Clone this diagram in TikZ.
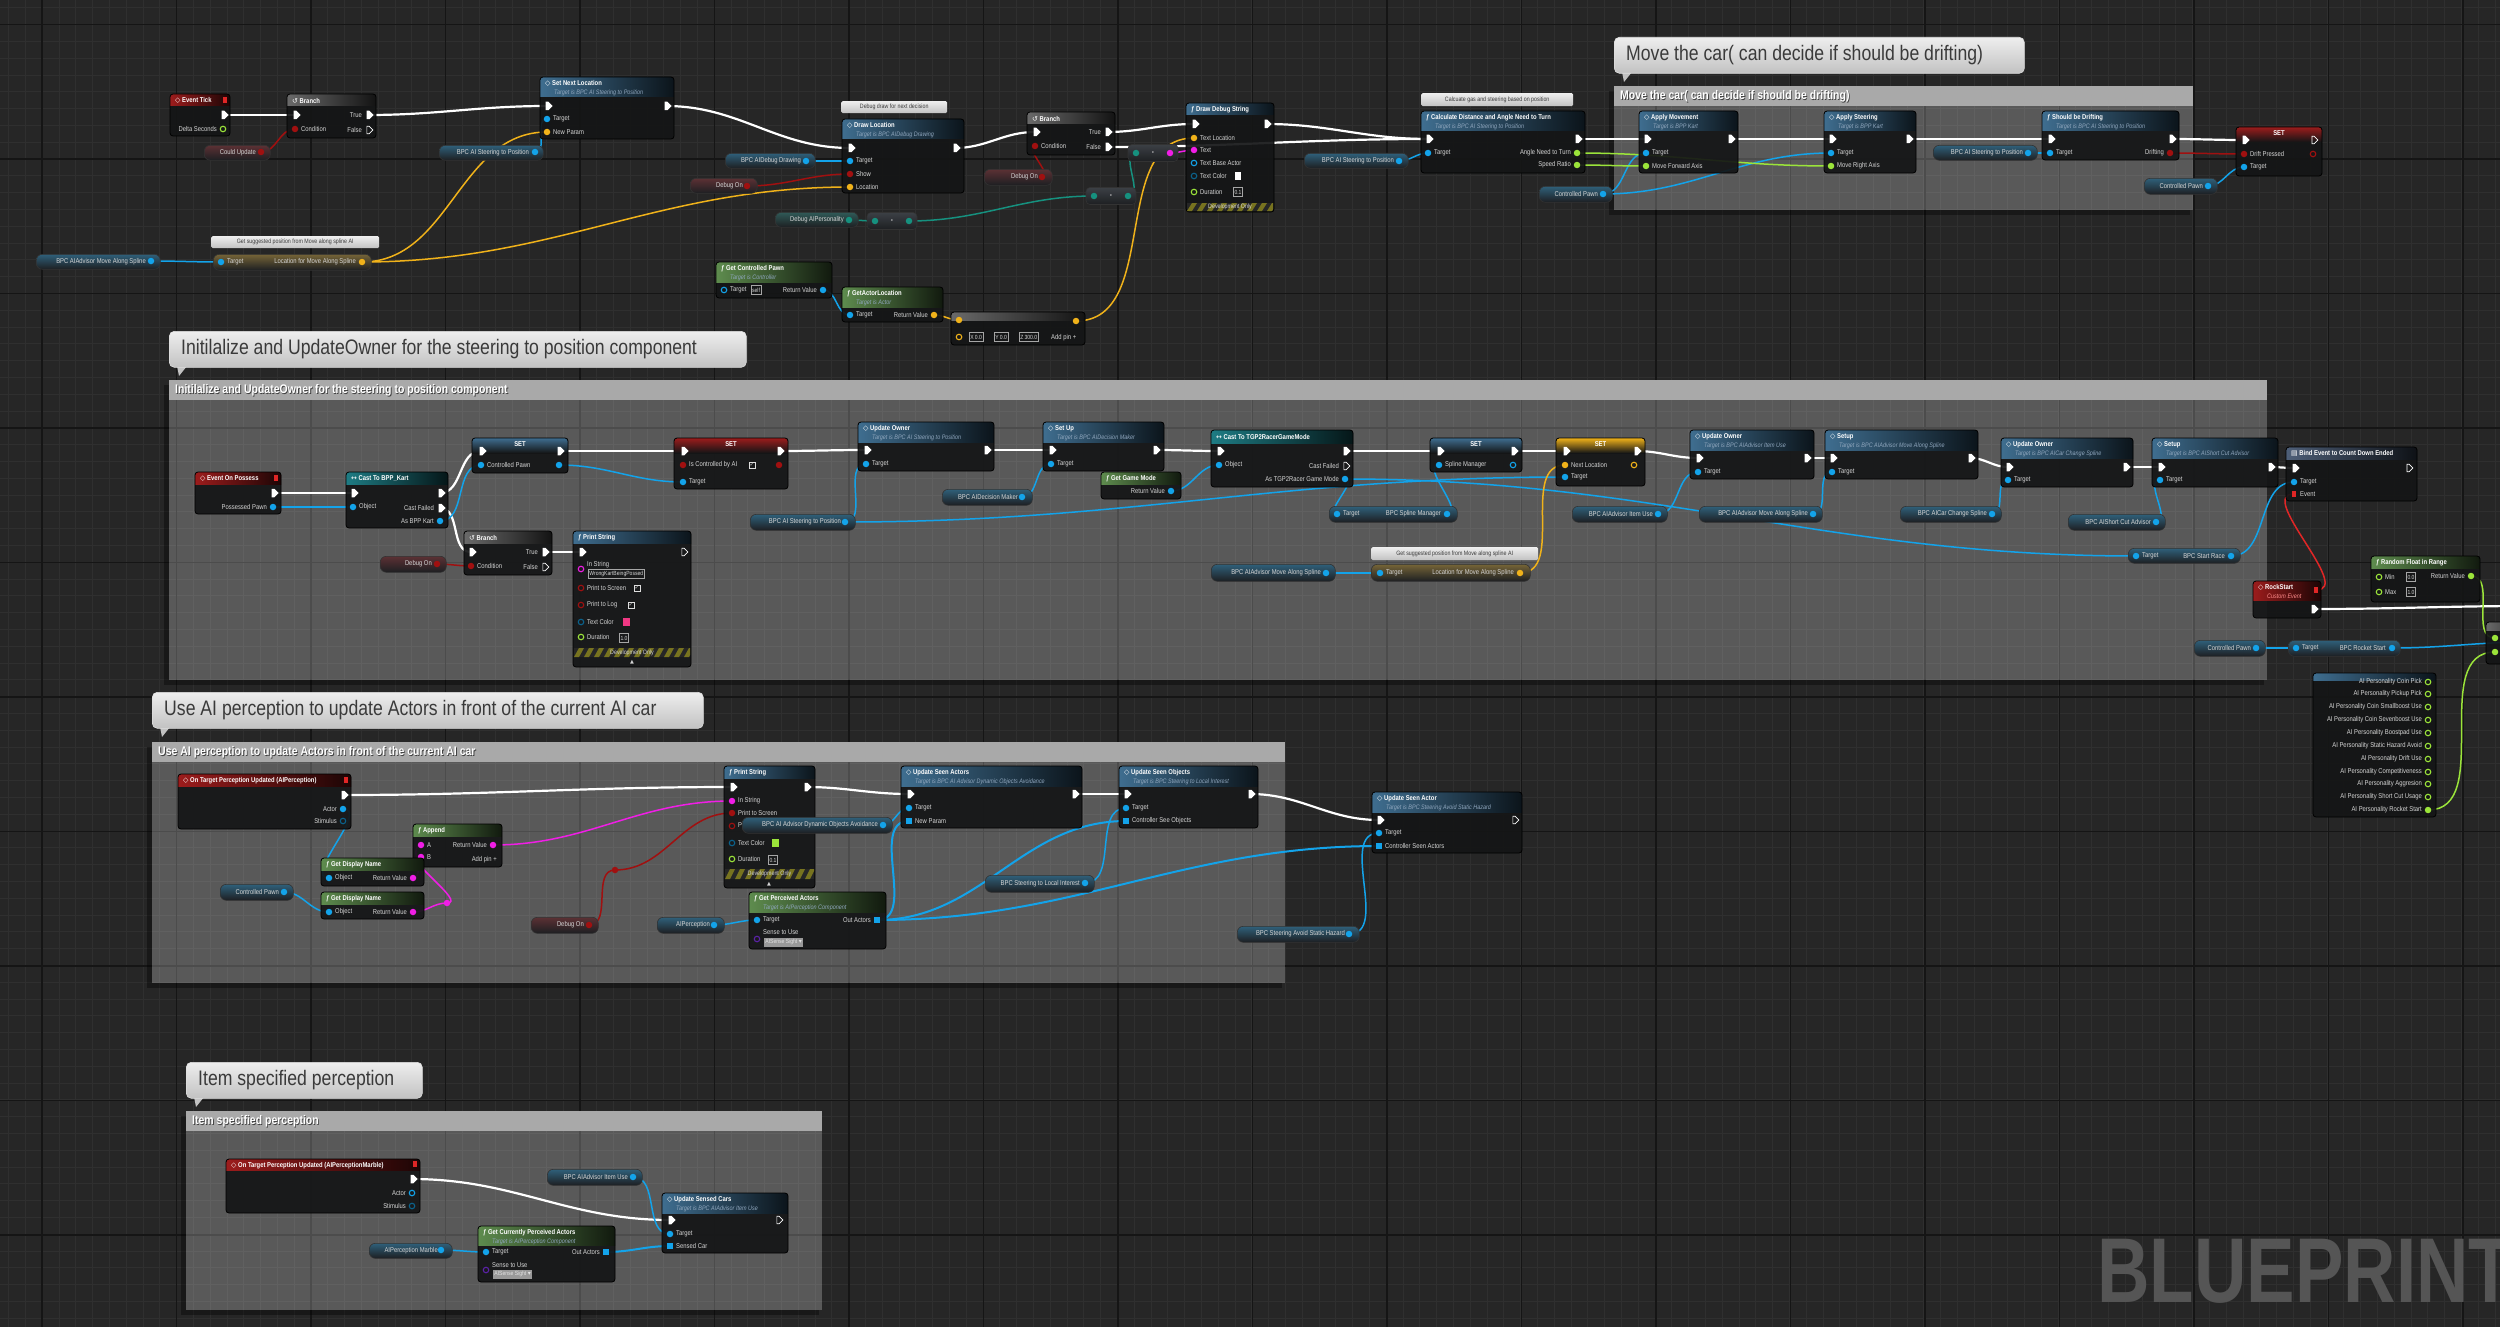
\documentclass[tikz,border=0pt]{standalone}
\usepackage{fontspec}
\setmainfont{Liberation Sans}[FakeStretch=0.84]
\newfontfamily\symfont{DejaVu Sans}
\newfontfamily\bpfont{Liberation Sans}[FakeStretch=0.79]
\usetikzlibrary{shapes.symbols}
\pgfdeclarelayer{gridl}\pgfdeclarelayer{regl}\pgfdeclarelayer{wirel}
\pgfsetlayers{gridl,regl,wirel,main}
\definecolor{bgc}{HTML}{262626}
\definecolor{gminor}{HTML}{2F2F2F}
\definecolor{gmajor}{HTML}{151515}
\definecolor{nbg}{HTML}{141516}
\definecolor{txt}{HTML}{D6D6D6}
\definecolor{subc}{HTML}{8FA6BD}
\definecolor{cobj}{HTML}{13A3EA}
\definecolor{cvec}{HTML}{F0B21A}
\definecolor{cbool}{HTML}{A01010}
\definecolor{cflt}{HTML}{9BE43A}
\definecolor{cstr}{HTML}{F01EE6}
\definecolor{cteal}{HTML}{16917F}
\definecolor{cdel}{HTML}{E02626}
\definecolor{cpur}{HTML}{5B22A8}
\definecolor{hred}{HTML}{9C1C1C}
\definecolor{hblue}{HTML}{3F6E90}
\definecolor{hgreen}{HTML}{5E8C4E}
\definecolor{hgrey}{HTML}{6A6A6A}
\definecolor{hteal}{HTML}{1E7C84}
\definecolor{hbind}{HTML}{4E5F78}
\definecolor{vgrey}{HTML}{3C4045}
\definecolor{vdark}{HTML}{1D1F22}
\definecolor{reghd}{HTML}{A9A9A9}
\definecolor{bubA}{HTML}{EEEEEE}
\definecolor{bubB}{HTML}{C2C2C2}
\definecolor{bubt}{HTML}{3A3A3A}
\definecolor{bpc}{HTML}{555555}
\definecolor{stry}{HTML}{77731F}
\tikzset{
  nbody/.style={rectangle, rounded corners=3pt, fill=nbg, fill opacity=0.92, inner sep=0pt, outer sep=0pt},
  ttl/.style={font=\fontsize{7}{8}\selectfont\bfseries, text=white, inner sep=0pt},
  sub/.style={font=\fontsize{6.5}{7}\selectfont\itshape, text=subc, inner sep=0pt},
  lab/.style={font=\fontsize{7}{8}\selectfont, text=txt, inner sep=0pt},
  xpin/.style={signal, signal to=east, fill=white, minimum width=7pt, minimum height=8.5pt, inner sep=0pt},
  hxpin/.style={signal, signal to=east, draw=white, line width=0.7pt, minimum width=6pt, minimum height=7.5pt, inner sep=0pt},
  dpin/.style={circle, fill=#1, minimum size=6.5pt, inner sep=0pt},
  hpin/.style={circle, draw=#1, line width=1.1pt, minimum size=5.5pt, inner sep=0pt},
  apin/.style={rectangle, fill=#1, minimum size=6pt, inner sep=0pt},
  sqpin/.style={rectangle, fill=#1, minimum width=4.5pt, minimum height=6pt, inner sep=0pt},
  wx/.style={draw=white, line width=2.2pt},
  wo/.style={draw=cobj, line width=1.5pt},
  wa/.style={draw=cobj, line width=2pt},
  wv/.style={draw=cvec, line width=1.5pt},
  wb/.style={draw=cbool, line width=1.5pt},
  wf/.style={draw=cflt, line width=1.5pt},
  ws/.style={draw=cstr, line width=1.5pt},
  wt/.style={draw=cteal, line width=1.5pt},
  wd/.style={draw=cdel, line width=1.5pt},
  vbox/.style={draw=gray!70, line width=0.5pt, font=\fontsize{6}{7}\selectfont, text=txt, inner sep=1.2pt, minimum height=9pt},
  scom/.style={rectangle, rounded corners=1.5pt, top color=bubA, bottom color=bubB, font=\fontsize{6.3}{7}\selectfont, text=bubt, inner sep=2pt},
}
\newcommand\ico[1]{{\symfont\mdseries\upshape #1}}
\newcommand\ubox[9]{%
  \node[nbody, anchor=north west, minimum width={(#4-#2)*1pt}, minimum height={(#5-#3)*1pt}] (#1) at (#2,#3) {};
  \begin{scope}
    \clip[rounded corners=3pt] (#2,#3) rectangle (#4,#5);
    \shade[left color=#7, right color=#7!18!black] (#2,#3) rectangle (#4,{#3+#6});
  \end{scope}
  \draw[rounded corners=3pt, black, line width=0.8pt] (#2,#3) rectangle (#4,#5);
  \node[ttl, anchor=west] (#1-t) at ({#2+5},{#3+6.5}) {#8};
  \node[sub, anchor=west] (#1-s) at ({#2+14},{#3+15.5}) {#9};
}
\newcommand\uset[6]{%
  \node[nbody, anchor=north west, minimum width={(#4-#2)*1pt}, minimum height={(#5-#3)*1pt}] (#1) at (#2,#3) {};
  \begin{scope}
    \clip[rounded corners=3pt] (#2,#3) rectangle (#4,#5);
    \shade[top color=#6, bottom color=nbg] (#2,#3) rectangle (#4,{#3+15});
  \end{scope}
  \draw[rounded corners=3pt, black, line width=0.8pt] (#2,#3) rectangle (#4,#5);
  \node[ttl] (#1-t) at ({(#2+#4)/2},{#3+6.5}) {SET};
}
\newcommand\uvar[7]{%
  \node[rectangle, rounded corners=6pt, top color=#6!32!vgrey, bottom color=vdark, draw=black!80, line width=0.6pt, anchor=north west, minimum width={(#4-#2)*1pt}, minimum height={(#5-#3)*1pt}, inner sep=0pt] (#1) at (#2,#3) {};
  \node[lab, anchor=east] (#1-l) at ({#4-14},{(#3+#5)/2}) {#7};
}
\newcommand\ucom[6]{%
  \node[scom, anchor=north west, minimum width={(#4-#2)*1pt}, minimum height={(#5-#3)*1pt}] (#1) at (#2,#3) {#6};
}
\newcommand\ubub[6]{%
  \fill[bubB] ({#2+8},{#5-1}) -- ({#2+18},{#5-1}) -- ({#2+10},{#5+9}) -- cycle;
  \node[rectangle, rounded corners=5pt, top color=bubA, bottom color=bubB, draw=white!75!gray, line width=0.6pt, anchor=north west, minimum width={(#4-#2)*1pt}, minimum height={(#5-#3)*1pt}, inner sep=0pt] (#1) at (#2,#3) {};
  \node[font=\fontsize{21}{22}\selectfont, text=bubt, anchor=west, inner sep=0pt] (#1-t) at ({#2+12},{(#3+#5)/2}) {#6};
}
\newcommand\ureg[6]{%
  \begin{pgfonlayer}{regl}
    \fill[black, opacity=0.35] ({#2-5},{#3+5}) rectangle (#2,{#5+5});
    \fill[black, opacity=0.35] (#2,#5) rectangle ({#4-3},{#5+5});
    \node[rectangle, fill=white, fill opacity=0.24, anchor=north west, minimum width={(#4-#2)*1pt}, minimum height={(#5-#3)*1pt}, inner sep=0pt] (#1) at (#2,#3) {};
    \fill[reghd] (#2,#3) rectangle (#4,{#3+20});
    \node[font=\fontsize{12.5}{13}\selectfont\bfseries, text=black!75, anchor=west, inner sep=0pt] (#1-sh) at ({#2+6.8},{#3+11.2}) {#6};
    \node[font=\fontsize{12.5}{13}\selectfont\bfseries, text=white, anchor=west, inner sep=0pt] (#1-t) at ({#2+6},{#3+10.4}) {#6};
  \end{pgfonlayer}}
\newcommand\udev[5]{%
  \begin{scope}
    \clip (#2,#3) rectangle (#4,#5);
    \fill[black!85] (#2,#3) rectangle (#4,#5);
    \foreach \k in {0,...,14} \fill[stry] ({#2+\k*10},#5) -- ({#2+\k*10+5},#5) -- ({#2+\k*10+10},#3) -- ({#2+\k*10+5},#3) -- cycle;
  \end{scope}
  \node[lab, font=\fontsize{6.3}{7}\selectfont] (#1) at ({(#2+#4)/2},{(#3+#5)/2}) {Development Only};
}
\newcommand\pinI[5]{\node[#2] (#1) at (#3,#4) {}; \node[lab, anchor=west] (#1-l) at ({#3+6},#4) {#5};}
\newcommand\pinO[5]{\node[#2] (#1) at (#3,#4) {}; \node[lab, anchor=east] (#1-l) at ({#3-6},#4) {#5};}
\newcommand\ucheck[3]{\node[draw=txt!80, line width=0.5pt, minimum size=6.5pt, inner sep=0pt, font=\symfont\fontsize{5.5}{5.5}\selectfont, text=txt] (#1) at (#2,#3) {✓};}
\newcommand\uconv[5]{%
  \node[rectangle, rounded corners=4pt, top color=vgrey, bottom color=vdark, draw=black!80, line width=0.6pt, minimum width=50pt, minimum height=17pt, inner sep=0pt, font=\fontsize{6}{6}\selectfont, text=txt] (#1) at (#2,#3) {\textbullet};
  \node[dpin=#4] (#1-i) at ({#2-17},#3) {};
  \node[dpin=#5] (#1-o) at ({#2+17},#3) {};}
\newcommand\cw[3]{\draw[#1] (#2.center) to[out=0,in=180] (#3.center);}

\begin{document}
\begin{tikzpicture}[x=1pt,y=-1pt]
\useasboundingbox (0,0) rectangle (2500,1327);
\begin{pgfonlayer}{gridl}
  \fill[bgc] (0,0) rectangle (2500,1327);
  \foreach \i in {0,...,149} \draw[gminor, line width=0.6pt] ({8.4+\i*16.8},0) -- ({8.4+\i*16.8},1327);
  \foreach \i in {0,...,79} \draw[gminor, line width=0.6pt] (0,{7.7+\i*16.8}) -- (2500,{7.7+\i*16.8});
  \foreach \i in {0,...,18} \draw[gmajor, line width=1.2pt] ({42+\i*134.5},0) -- ({42+\i*134.5},1327);
  \foreach \i in {0,...,9} \draw[gmajor, line width=1.2pt] (0,{24.5+\i*134.5}) -- (2500,{24.5+\i*134.5});
  \node[anchor=west, text=bpc, font=\bpfont\bfseries\fontsize{92}{92}\selectfont, inner sep=0pt] (bp) at (2097,1271) {BLUEPRINT};
\end{pgfonlayer}

% ================= TOP SECTION =================
\ubox{tick}{170}{94}{230}{136}{12}{hred}{\ico{◇} Event Tick}{}
\node[sqpin=cdel] (tick-d) at (225,100) {};
\pinO{tick-x}{xpin}{223}{115}{}
\pinO{tick-ds}{hpin=cflt}{223}{129}{Delta Seconds}

\ubox{br1}{287}{94}{376}{138}{12}{hgrey}{\ico{↺} Branch}{}
\pinI{br1-in}{xpin}{295}{115}{}
\pinI{br1-c}{dpin=cbool}{295}{129}{Condition}
\pinO{br1-t}{xpin}{368}{115}{True}
\pinO{br1-f}{hxpin}{368}{130}{False}

\uvar{cu}{204}{145}{270}{160}{cbool}{Could Update}
\node[dpin=cbool] (cu-o) at (261,152) {};

\ubox{snl}{540}{77}{674}{139}{20}{hblue}{\ico{◇} Set Next Location}{Target is BPC AI Steering to Position}
\pinI{snl-in}{xpin}{547}{106}{}
\pinO{snl-out}{xpin}{666}{106}{}
\pinI{snl-tg}{dpin=cobj}{547}{119}{Target}
\pinI{snl-np}{dpin=cvec}{547}{132}{New Param}

\uvar{sp1}{439}{145}{543}{160}{cobj}{BPC AI Steering to Position}
\node[dpin=cobj] (sp1-o) at (535,152) {};

\ucom{cm1}{211}{236}{379}{248}{Get suggested position from Move along spline AI}
\uvar{ms1}{36}{254}{160}{269}{cobj}{BPC AIAdvisor Move Along Spline}
\node[dpin=cobj] (ms1-o) at (151,261) {};
\uvar{lm1}{213}{254}{371}{270}{cvec}{}
\pinI{lm1-tg}{dpin=cobj}{221}{262}{Target}
\pinO{lm1-o}{dpin=cvec}{362}{262}{Location for Move Along Spline}

\ucom{cm2}{841}{101}{947}{113}{Debug draw for next decision}
\ubox{dl}{842}{119}{964}{193}{20}{hblue}{\ico{◇} Draw Location}{Target is BPC AIDebug Drawing}
\pinI{dl-in}{xpin}{850}{148}{}
\pinO{dl-out}{xpin}{955}{148}{}
\pinI{dl-tg}{dpin=cobj}{850}{161}{Target}
\pinI{dl-sh}{dpin=cbool}{850}{174}{Show}
\pinI{dl-loc}{dpin=cvec}{850}{187}{Location}
\uvar{dd}{725}{153}{815}{168}{cobj}{BPC AIDebug Drawing}
\node[dpin=cobj] (dd-o) at (806,161) {};
\uvar{do1}{690}{178}{757}{193}{cbool}{Debug On}
\node[dpin=cbool] (do1-o) at (747,186) {};

\ubox{br2}{1027}{112}{1115}{155}{12}{hgrey}{\ico{↺} Branch}{}
\pinI{br2-in}{xpin}{1035}{132}{}
\pinI{br2-c}{dpin=cbool}{1035}{146}{Condition}
\pinO{br2-t}{xpin}{1107}{132}{True}
\pinO{br2-f}{xpin}{1107}{147}{False}
\uvar{do2}{984}{169}{1052}{185}{cbool}{Debug On}
\node[dpin=cbool] (do2-o) at (1042,177) {};

\ubox{dds}{1186}{103}{1274}{212}{12}{hblue}{ƒ Draw Debug String}{}
\pinI{dds-in}{xpin}{1194}{124}{}
\pinO{dds-out}{xpin}{1266}{124}{}
\pinI{dds-tl}{dpin=cvec}{1194}{138}{Text Location}
\pinI{dds-tx}{dpin=cstr}{1194}{150}{Text}
\pinI{dds-ba}{hpin=cobj}{1194}{163}{Text Base Actor}
\pinI{dds-tc}{hpin=cobj!60!black}{1194}{176}{Text Color}
\node[fill=white, minimum width=6pt, minimum height=8pt, inner sep=0pt] (dds-sw) at (1238,176) {};
\pinI{dds-du}{hpin=cflt}{1194}{192}{Duration}
\node[vbox] (dds-dv) at (1238,192) {0.1};
\udev{dds-dev}{1187}{203}{1273}{211}

\uvar{dap}{775}{212}{858}{227}{cteal}{Debug AIPersonality}
\node[dpin=cteal] (dap-o) at (849,220) {};
\uconv{cv1}{892}{221}{cteal}{cteal}
\uconv{cv2}{1111}{196}{cteal}{cteal}
\uconv{cv3}{1153}{153}{cteal}{cstr}

\ubox{gcp}{716}{262}{832}{298}{20}{hgreen}{ƒ Get Controlled Pawn}{Target is Controller}
\pinI{gcp-tg}{hpin=cobj}{724}{290}{Target}
\node[vbox] (gcp-self) at (756,290) {self};
\pinO{gcp-o}{dpin=cobj}{823}{290}{Return Value}
\ubox{gal}{842}{287}{943}{322}{20}{hgreen}{ƒ GetActorLocation}{Target is Actor}
\pinI{gal-tg}{dpin=cobj}{850}{315}{Target}
\pinO{gal-o}{dpin=cvec}{934}{315}{Return Value}
\ubox{add}{951}{312}{1085}{345}{8}{hgrey}{}{}
\node[dpin=cvec] (add-a) at (959,320) {};
\node[dpin=cvec] (add-o) at (1076,321) {};
\node[hpin=cvec] (add-b) at (959,337) {};
\node[vbox, anchor=west] (add-x) at (969,337) {X\,0.0};
\node[vbox, anchor=west] (add-y) at (994,337) {Y\,0.0};
\node[vbox, anchor=west] (add-z) at (1019,337) {Z\,300.0};
\node[lab, anchor=west] (add-p) at (1051,338) {Add pin +};

\ucom{cm3}{1421}{93}{1573}{106}{Calcuate gas and steering based on position}
\ubox{cd}{1421}{111}{1585}{173}{20}{hblue}{ƒ Calculate Distance and Angle Need to Turn}{Target is BPC AI Steering to Position}
\pinI{cd-in}{xpin}{1428}{139}{}
\pinO{cd-out}{xpin}{1577}{139}{}
\pinI{cd-tg}{dpin=cobj}{1428}{153}{Target}
\pinO{cd-an}{dpin=cflt}{1577}{153}{Angle Need to Turn}
\pinO{cd-sr}{dpin=cflt}{1577}{165}{Speed Ratio}
\uvar{sp2}{1304}{153}{1408}{168}{cobj}{BPC AI Steering to Position}
\node[dpin=cobj] (sp2-o) at (1399,161) {};

\ureg{rg1}{1614}{86}{2193}{210}{Move the car( can decide if should be drifting)}
\ubub{bb1}{1614}{37}{2024}{73}{Move the car( can decide if should be drifting)}
\uvar{cp1}{1539}{186}{1612}{202}{cobj}{Controlled Pawn}
\node[dpin=cobj] (cp1-o) at (1603,194) {};
\ubox{am}{1639}{111}{1738}{173}{20}{hblue}{\ico{◇} Apply Movement}{Target is BPP Kart}
\pinI{am-in}{xpin}{1646}{139}{}
\pinO{am-out}{xpin}{1730}{139}{}
\pinI{am-tg}{dpin=cobj}{1646}{153}{Target}
\pinI{am-mf}{dpin=cflt}{1646}{166}{Move Forward Axis}
\ubox{as}{1824}{111}{1916}{173}{20}{hblue}{\ico{◇} Apply Steering}{Target is BPP Kart}
\pinI{as-in}{xpin}{1831}{139}{}
\pinO{as-out}{xpin}{1908}{139}{}
\pinI{as-tg}{dpin=cobj}{1831}{153}{Target}
\pinI{as-mr}{dpin=cflt}{1831}{166}{Move Right Axis}
\uvar{sp3}{1933}{145}{2037}{160}{cobj}{BPC AI Steering to Position}
\node[dpin=cobj] (sp3-o) at (2028,153) {};
\ubox{sd}{2042}{111}{2179}{160}{20}{hblue}{ƒ Should be Drifting}{Target is BPC AI Steering to Position}
\pinI{sd-in}{xpin}{2050}{139}{}
\pinO{sd-out}{xpin}{2171}{139}{}
\pinI{sd-tg}{dpin=cobj}{2050}{153}{Target}
\pinO{sd-dr}{dpin=cbool}{2170}{153}{Drifting}
\uset{set1}{2236}{127}{2322}{176}{hred}
\pinI{set1-in}{xpin}{2244}{140}{}
\pinO{set1-out}{hxpin}{2313}{140}{}
\pinI{set1-dp}{dpin=cbool}{2244}{154}{Drift Pressed}
\node[hpin=cbool] (set1-dpo) at (2313,154) {};
\pinI{set1-tg}{dpin=cobj}{2244}{167}{Target}
\uvar{cp2}{2144}{178}{2217}{194}{cobj}{Controlled Pawn}
\node[dpin=cobj] (cp2-o) at (2208,186) {};

% ================= INIT SECTION =================
\ureg{rg2}{169}{380}{2267}{680}{Initilalize and UpdateOwner for the steering to position component}
\ubub{bb2}{169}{331}{746}{367}{Initilalize and UpdateOwner for the steering to position component}

\ubox{eop}{195}{472}{281}{514}{12}{hred}{\ico{◇} Event On Possess}{}
\node[sqpin=cdel] (eop-d) at (276,478) {};
\pinO{eop-x}{xpin}{273}{493}{}
\pinO{eop-pp}{dpin=cobj}{273}{507}{Possessed Pawn}
\ubox{c1}{346}{472}{448}{528}{12}{hteal}{\ico{↔} Cast To BPP\_Kart}{}
\pinI{c1-in}{xpin}{353}{493}{}
\pinO{c1-out}{xpin}{440}{493}{}
\pinI{c1-ob}{dpin=cobj}{353}{507}{Object}
\pinO{c1-cf}{xpin}{440}{508}{Cast Failed}
\pinO{c1-as}{dpin=cobj}{440}{521}{As BPP Kart}
\uset{s2}{472}{438}{568}{473}{hblue}
\pinI{s2-in}{xpin}{481}{451}{}
\pinO{s2-out}{xpin}{559}{451}{}
\pinI{s2-cp}{dpin=cobj}{481}{465}{Controlled Pawn}
\node[dpin=cobj] (s2-cpo) at (559,465) {};
\uset{s3}{674}{438}{788}{489}{hred}
\pinI{s3-in}{xpin}{683}{451}{}
\pinO{s3-out}{xpin}{779}{451}{}
\pinI{s3-ic}{dpin=cbool}{683}{465}{Is Controlled by AI}
\ucheck{s3-ck}{752}{465}
\node[dpin=cbool] (s3-ico) at (779,465) {};
\pinI{s3-tg}{dpin=cobj}{683}{482}{Target}
\ubox{b3}{464}{531}{552}{575}{12}{hgrey}{\ico{↺} Branch}{}
\pinI{b3-in}{xpin}{471}{552}{}
\pinI{b3-c}{dpin=cbool}{471}{566}{Condition}
\pinO{b3-t}{xpin}{544}{552}{True}
\pinO{b3-f}{hxpin}{544}{567}{False}
\uvar{do3}{380}{556}{446}{572}{cbool}{Debug On}
\node[dpin=cbool] (do3-o) at (437,564) {};
\ubox{ps1}{573}{531}{691}{667}{12}{hblue}{ƒ Print String}{}
\pinI{ps1-in}{xpin}{581}{552}{}
\node[hxpin] (ps1-out) at (683,552) {};
\node[hpin=cstr] (ps1-is) at (581,569) {};
\node[lab, anchor=west] (ps1-isl) at (587,564.5) {In String};
\node[vbox, anchor=west] (ps1-isv) at (588,574) {WrongKartBeingPossed};
\pinI{ps1-ps}{hpin=cbool}{581}{588}{Print to Screen}
\ucheck{ps1-ck1}{637}{588}
\pinI{ps1-pl}{hpin=cbool}{581}{605}{Print to Log}
\ucheck{ps1-ck2}{631}{605}
\pinI{ps1-tc}{hpin=cobj!60!black}{581}{622}{Text Color}
\node[fill=magenta!70!red!80!white, minimum width=7pt, minimum height=8pt, inner sep=0pt] (ps1-sw) at (626,622) {};
\pinI{ps1-du}{hpin=cflt}{581}{637}{Duration}
\node[vbox] (ps1-dv) at (624,638) {1.0};
\udev{ps1-dev}{574}{648}{690}{657}
\node[font=\symfont\fontsize{5}{5}\selectfont, text=txt] (ps1-tri) at (632,662) {▲};

\uvar{sp4}{750}{514}{855}{530}{cobj}{BPC AI Steering to Position}
\node[dpin=cobj] (sp4-o) at (845,522) {};
\ubox{uo1}{858}{422}{994}{471}{20}{hblue}{\ico{◇} Update Owner}{Target is BPC AI Steering to Position}
\pinI{uo1-in}{xpin}{866}{450}{}
\pinO{uo1-out}{xpin}{986}{450}{}
\pinI{uo1-tg}{dpin=cobj}{866}{464}{Target}
\ubox{su}{1043}{422}{1164}{471}{20}{hblue}{\ico{◇} Set Up}{Target is BPC AIDecision Maker}
\pinI{su-in}{xpin}{1051}{450}{}
\pinO{su-out}{xpin}{1155}{450}{}
\pinI{su-tg}{dpin=cobj}{1051}{464}{Target}
\uvar{dm}{942}{489}{1032}{505}{cobj}{BPC AIDecision Maker}
\node[dpin=cobj] (dm-o) at (1022,497) {};
\ubox{ggm}{1101}{472}{1181}{499}{12}{hgreen}{ƒ Get Game Mode}{}
\pinO{ggm-o}{dpin=cobj}{1171}{491}{Return Value}
\ubox{c2}{1211}{430}{1353}{487}{13}{hteal}{\ico{↔} Cast To TGP2RacerGameMode}{}
\pinI{c2-in}{xpin}{1219}{451}{}
\pinO{c2-out}{xpin}{1345}{451}{}
\pinI{c2-ob}{dpin=cobj}{1219}{465}{Object}
\pinO{c2-cf}{hxpin}{1345}{466}{Cast Failed}
\pinO{c2-as}{dpin=cobj}{1345}{479}{As TGP2Racer Game Mode}
\uset{s4}{1430}{438}{1522}{472}{hblue}
\pinI{s4-in}{xpin}{1439}{451}{}
\pinO{s4-out}{xpin}{1513}{451}{}
\pinI{s4-sm}{dpin=cobj}{1439}{465}{Spline Manager}
\node[hpin=cobj] (s4-smo) at (1513,465) {};
\uvar{gsm}{1329}{506}{1457}{522}{cobj}{}
\pinI{gsm-tg}{dpin=cobj}{1337}{514}{Target}
\pinO{gsm-o}{dpin=cobj}{1447}{514}{BPC Spline Manager}
\ucom{cm4}{1371}{547}{1538}{560}{Get suggested position from Move along spline AI}
\uvar{ms2}{1211}{564}{1335}{581}{cobj}{BPC AIAdvisor Move Along Spline}
\node[dpin=cobj] (ms2-o) at (1326,573) {};
\uvar{lm2}{1371}{564}{1530}{581}{cvec}{}
\pinI{lm2-tg}{dpin=cobj}{1380}{573}{Target}
\pinO{lm2-o}{dpin=cvec}{1520}{573}{Location for Move Along Spline}
\uset{s5}{1556}{438}{1645}{486}{cvec}
\pinI{s5-in}{xpin}{1565}{451}{}
\pinO{s5-out}{xpin}{1636}{451}{}
\pinI{s5-nl}{dpin=cvec}{1565}{465}{Next Location}
\node[hpin=cvec] (s5-nlo) at (1634,465) {};
\pinI{s5-tg}{dpin=cobj}{1565}{477}{Target}
\ubox{uo2}{1690}{430}{1814}{479}{20}{hblue}{\ico{◇} Update Owner}{Target is BPC AIAdvisor Item Use}
\pinI{uo2-in}{xpin}{1698}{458}{}
\pinO{uo2-out}{xpin}{1806}{458}{}
\pinI{uo2-tg}{dpin=cobj}{1698}{472}{Target}
\uvar{iu1}{1572}{506}{1667}{522}{cobj}{BPC AIAdvisor Item Use}
\node[dpin=cobj] (iu1-o) at (1658,514) {};
\ubox{st1}{1825}{430}{1978}{479}{20}{hblue}{\ico{◇} Setup}{Target is BPC AIAdvisor Move Along Spline}
\pinI{st1-in}{xpin}{1832}{458}{}
\pinO{st1-out}{xpin}{1970}{458}{}
\pinI{st1-tg}{dpin=cobj}{1832}{472}{Target}
\uvar{ms3}{1699}{506}{1822}{522}{cobj}{BPC AIAdvisor Move Along Spline}
\node[dpin=cobj] (ms3-o) at (1813,514) {};
\ubox{uo3}{2001}{438}{2133}{487}{20}{hblue}{\ico{◇} Update Owner}{Target is BPC AICar Change Spline}
\pinI{uo3-in}{xpin}{2008}{467}{}
\pinO{uo3-out}{xpin}{2125}{467}{}
\pinI{uo3-tg}{dpin=cobj}{2008}{480}{Target}
\uvar{cc}{1900}{506}{2001}{522}{cobj}{BPC AICar Change Spline}
\node[dpin=cobj] (cc-o) at (1992,514) {};
\ubox{st2}{2152}{438}{2278}{487}{20}{hblue}{\ico{◇} Setup}{Target is BPC AIShort Cut Advisor}
\pinI{st2-in}{xpin}{2160}{467}{}
\pinO{st2-out}{xpin}{2270}{467}{}
\pinI{st2-tg}{dpin=cobj}{2160}{480}{Target}
\uvar{sc}{2068}{514}{2165}{530}{cobj}{BPC AIShort Cut Advisor}
\node[dpin=cobj] (sc-o) at (2156,522) {};
\ubox{be}{2286}{447}{2417}{501}{12}{hbind}{\ico{▤} Bind Event to Count Down Ended}{}
\pinI{be-in}{xpin}{2294}{468}{}
\node[hxpin] (be-out) at (2408,468) {};
\pinI{be-tg}{dpin=cobj}{2294}{482}{Target}
\pinI{be-ev}{sqpin=cdel}{2294}{494}{Event}
\uvar{sr}{2128}{548}{2240}{563}{cobj}{}
\pinI{sr-tg}{dpin=cobj}{2136}{556}{Target}
\pinO{sr-o}{dpin=cobj}{2231}{556}{BPC Start Race}
\ubox{rs}{2253}{581}{2321}{618}{19}{hred}{\ico{◇} RockStart}{\textcolor{red!45!white}{Custom Event}}
\node[sqpin=cdel] (rs-d) at (2316,590) {};
\node[xpin] (rs-x) at (2313,609) {};
\ubox{rf}{2371}{556}{2480}{602}{12}{hgreen}{ƒ Random Float in Range}{}
\pinI{rf-mn}{hpin=cflt}{2379}{577}{Min}
\node[vbox] (rf-mnv) at (2411,577) {0.0};
\pinI{rf-mx}{hpin=cflt}{2379}{592}{Max}
\node[vbox] (rf-mxv) at (2411,592) {1.0};
\pinO{rf-o}{dpin=cflt}{2471}{576}{Return Value}
\uvar{cp3}{2194}{640}{2265}{656}{cobj}{Controlled Pawn}
\node[dpin=cobj] (cp3-o) at (2256,648) {};
\uvar{rks}{2288}{640}{2400}{656}{cobj}{}
\pinI{rks-tg}{dpin=cobj}{2296}{648}{Target}
\pinO{rks-o}{dpin=cobj}{2392}{648}{BPC Rocket Start}
\ubox{rn}{2486}{622}{2540}{664}{8}{hgrey}{}{}
\node[dpin=cflt] (rn-a) at (2495,638) {};
\node[dpin=cflt] (rn-b) at (2495,652) {};
\coordinate (rn-x) at (2530,606);
\coordinate (rn-c) at (2530,642);
\ubox{pers}{2313}{673}{2436}{817}{7}{hblue}{}{}
\pinO{pers-1}{hpin=cflt}{2428}{682}{AI Personality Coin Pick}
\pinO{pers-2}{hpin=cflt}{2428}{694}{AI Personality Pickup Pick}
\pinO{pers-3}{hpin=cflt}{2428}{707}{AI Personality Coin Smallboost Use}
\pinO{pers-4}{hpin=cflt}{2428}{720}{AI Personality Coin Sevenboost Use}
\pinO{pers-5}{hpin=cflt}{2428}{733}{AI Personality Boostpad Use}
\pinO{pers-6}{hpin=cflt}{2428}{746}{AI Personality Static Hazard Avoid}
\pinO{pers-7}{hpin=cflt}{2428}{759}{AI Personality Drift Use}
\pinO{pers-8}{hpin=cflt}{2428}{772}{AI Personality Competitiveness}
\pinO{pers-9}{hpin=cflt}{2428}{784}{AI Personality Aggresion}
\pinO{pers-10}{hpin=cflt}{2428}{797}{AI Personality Short Cut Usage}
\pinO{pers-11}{dpin=cflt}{2428}{810}{AI Personality Rocket Start}

% ================= PERCEPTION SECTION =================
\ureg{rg3}{152}{742}{1285}{983}{Use AI perception to update Actors in front of the current AI car}
\ubub{bb3}{152}{692}{703}{728}{Use AI perception to update Actors in front of the current AI car}
\ubox{otp}{178}{774}{351}{829}{12}{hred}{\ico{◇} On Target Perception Updated (AIPerception)}{}
\node[sqpin=cdel] (otp-d) at (346,780) {};
\pinO{otp-x}{xpin}{343}{795}{}
\pinO{otp-ac}{dpin=cobj}{343}{809}{Actor}
\pinO{otp-st}{hpin=cobj!60!black}{343}{821}{Stimulus}
\ubox{ap}{413}{824}{502}{867}{12}{hgreen}{ƒ Append}{}
\pinI{ap-a}{dpin=cstr}{421}{845}{A}
\pinI{ap-b}{dpin=cstr}{421}{857}{B}
\pinO{ap-o}{dpin=cstr}{493}{845}{Return Value}
\node[lab, anchor=east] (ap-add) at (497,860) {Add pin +};
\ubox{g1}{321}{858}{424}{886}{12}{hgreen}{ƒ Get Display Name}{}
\pinI{g1-ob}{dpin=cobj}{329}{878}{Object}
\pinO{g1-o}{dpin=cstr}{413}{878}{Return Value}
\ubox{g2}{321}{892}{424}{919}{12}{hgreen}{ƒ Get Display Name}{}
\pinI{g2-ob}{dpin=cobj}{329}{912}{Object}
\pinO{g2-o}{dpin=cstr}{413}{912}{Return Value}
\node[dpin=cstr] (kns) at (447,903) {};
\uvar{cp4}{220}{884}{293}{900}{cobj}{Controlled Pawn}
\node[dpin=cobj] (cp4-o) at (284,892) {};
\uvar{do4}{531}{917}{598}{933}{cbool}{Debug On}
\node[dpin=cbool] (do4-o) at (589,925) {};
\node[dpin=cbool] (knr) at (615,870) {};
\uvar{aip}{657}{917}{724}{933}{cobj}{AIPerception}
\node[dpin=cobj] (aip-o) at (714,925) {};
\ubox{ps2}{724}{766}{815}{888}{12}{hblue}{ƒ Print String}{}
\pinI{ps2-in}{xpin}{732}{787}{}
\pinO{ps2-out}{xpin}{806}{787}{}
\pinI{ps2-is}{dpin=cstr}{732}{801}{In String}
\pinI{ps2-pts}{dpin=cbool}{732}{813}{Print to Screen}
\pinI{ps2-ptl}{hpin=cbool}{732}{826}{Print to Log}
\pinI{ps2-tc}{hpin=cobj!60!black}{732}{843}{Text Color}
\node[fill=cflt, minimum width=7pt, minimum height=8pt, inner sep=0pt] (ps2-sw) at (775,843) {};
\pinI{ps2-du}{hpin=cflt}{732}{859}{Duration}
\node[vbox] (ps2-dv) at (773,860) {0.1};
\udev{ps2-dev}{725}{869}{814}{879}
\node[font=\symfont\fontsize{5}{5}\selectfont, text=txt] (ps2-tri) at (769,884) {▲};
\uvar{doa}{742}{817}{892}{833}{cobj}{BPC AI Advisor Dynamic Objects Avoidance}
\node[dpin=cobj] (doa-o) at (883,825) {};
\ubox{gpa}{749}{892}{886}{949}{20}{hgreen}{ƒ Get Perceived Actors}{Target is AIPerception Component}
\pinI{gpa-tg}{dpin=cobj}{757}{920}{Target}
\pinO{gpa-o}{apin=cobj}{877}{920}{Out Actors}
\node[hpin=cpur] (gpa-su) at (757,939) {};
\node[lab, anchor=west] (gpa-sul) at (763,932) {Sense to Use};
\node[vbox, draw=none, fill=black!40, text=txt!70, anchor=west] (gpa-dd) at (764,942) {AISense Sight \ico{▾}};
\ubox{usa}{901}{766}{1082}{828}{20}{hblue}{\ico{◇} Update Seen Actors}{Target is BPC AI Advisor Dynamic Objects Avoidance}
\pinI{usa-in}{xpin}{909}{794}{}
\pinO{usa-out}{xpin}{1074}{794}{}
\pinI{usa-tg}{dpin=cobj}{909}{808}{Target}
\pinI{usa-np}{apin=cobj}{909}{821}{New Param}
\ubox{uso}{1119}{766}{1258}{828}{20}{hblue}{\ico{◇} Update Seen Objects}{Target is BPC Steering to Local Interest}
\pinI{uso-in}{xpin}{1126}{794}{}
\pinO{uso-out}{xpin}{1250}{794}{}
\pinI{uso-tg}{dpin=cobj}{1126}{808}{Target}
\pinI{uso-cs}{apin=cobj}{1126}{821}{Controller See Objects}
\ubox{usr}{1372}{792}{1522}{853}{20}{hblue}{\ico{◇} Update Seen Actor}{Target is BPC Steering Avoid Static Hazard}
\pinI{usr-in}{xpin}{1379}{820}{}
\node[hxpin] (usr-out) at (1514,820) {};
\pinI{usr-tg}{dpin=cobj}{1379}{833}{Target}
\pinI{usr-cs}{apin=cobj}{1379}{846}{Controller Seen Actors}
\uvar{li}{985}{875}{1094}{892}{cobj}{BPC Steering to Local Interest}
\node[dpin=cobj] (li-o) at (1085,883) {};
\uvar{sh}{1237}{926}{1359}{942}{cobj}{BPC Steering Avoid Static Hazard}
\node[dpin=cobj] (sh-o) at (1349,934) {};

% ================= ITEM SECTION =================
\ureg{rg4}{186}{1111}{822}{1310}{Item specified perception}
\ubub{bb4}{186}{1062}{422}{1098}{Item specified perception}
\ubox{otm}{226}{1159}{420}{1213}{11}{hred}{\ico{◇} On Target Perception Updated (AIPerceptionMarble)}{}
\node[sqpin=cdel] (otm-d) at (415,1164) {};
\pinO{otm-x}{xpin}{412}{1179}{}
\pinO{otm-ac}{hpin=cobj}{412}{1193}{Actor}
\pinO{otm-st}{hpin=cobj!60!black}{412}{1206}{Stimulus}
\uvar{iu2}{547}{1169}{642}{1185}{cobj}{BPC AIAdvisor Item Use}
\node[dpin=cobj] (iu2-o) at (633,1177) {};
\ubox{usc}{662}{1193}{788}{1253}{20}{hblue}{\ico{◇} Update Sensed Cars}{Target is BPC AIAdvisor Item Use}
\pinI{usc-in}{xpin}{670}{1220}{}
\node[hxpin] (usc-out) at (778,1220) {};
\pinI{usc-tg}{dpin=cobj}{670}{1234}{Target}
\pinI{usc-sc}{apin=cobj}{670}{1246}{Sensed Car}
\uvar{aim}{369}{1243}{452}{1258}{cobj}{AIPerception Marble}
\node[dpin=cobj] (aim-o) at (441,1250) {};
\ubox{gca}{478}{1226}{615}{1282}{19}{hgreen}{ƒ Get Currently Perceived Actors}{Target is AIPerception Component}
\pinI{gca-tg}{dpin=cobj}{486}{1252}{Target}
\pinO{gca-o}{apin=cobj}{606}{1252}{Out Actors}
\node[hpin=cpur] (gca-su) at (486,1270) {};
\node[lab, anchor=west] (gca-sul) at (492,1265) {Sense to Use};
\node[vbox, draw=none, fill=black!40, text=txt!70, anchor=west] (gca-dd) at (493,1274) {AISense Sight \ico{▾}};

% ================= WIRES =================
\begin{pgfonlayer}{wirel}
\cw{wx}{tick-x}{br1-in}
\cw{wx}{br1-t}{snl-in}
\cw{wx}{snl-out}{dl-in}
\cw{wx}{dl-out}{br2-in}
\cw{wx}{br2-t}{dds-in}
\cw{wx}{br2-f}{cd-in}
\cw{wx}{dds-out}{cd-in}
\cw{wx}{cd-out}{am-in}
\cw{wx}{am-out}{as-in}
\cw{wx}{as-out}{sd-in}
\cw{wx}{sd-out}{set1-in}
\cw{wb}{cu-o}{br1-c}
\cw{wb}{do1-o}{dl-sh}
\cw{wb}{do2-o}{br2-c}
\cw{wb}{sd-dr}{set1-dp}
\cw{wo}{sp1-o}{snl-tg}
\cw{wo}{ms1-o}{lm1-tg}
\cw{wo}{dd-o}{dl-tg}
\cw{wo}{sp2-o}{cd-tg}
\cw{wo}{cp1-o}{am-tg}
\cw{wo}{cp1-o}{as-tg}
\cw{wo}{sp3-o}{sd-tg}
\cw{wo}{cp2-o}{set1-tg}
\cw{wo}{gcp-o}{gal-tg}
\cw{wv}{lm1-o}{snl-np}
\cw{wv}{lm1-o}{dl-loc}
\cw{wv}{gal-o}{add-a}
\cw{wv}{add-o}{dds-tl}
\cw{wf}{cd-an}{as-mr}
\cw{wf}{cd-sr}{am-mf}
\cw{wt}{dap-o}{cv1-i}
\cw{wt}{cv1-o}{cv2-i}
\cw{wt}{cv2-o}{cv3-i}
\cw{ws}{cv3-o}{dds-tx}

\cw{wx}{eop-x}{c1-in}
\cw{wx}{c1-out}{s2-in}
\cw{wx}{c1-cf}{b3-in}
\cw{wx}{b3-t}{ps1-in}
\cw{wx}{s2-out}{s3-in}
\cw{wx}{s3-out}{uo1-in}
\cw{wx}{uo1-out}{su-in}
\cw{wx}{su-out}{c2-in}
\cw{wx}{c2-out}{s4-in}
\cw{wx}{s4-out}{s5-in}
\cw{wx}{s5-out}{uo2-in}
\cw{wx}{uo2-out}{st1-in}
\cw{wx}{st1-out}{uo3-in}
\cw{wx}{uo3-out}{st2-in}
\cw{wx}{st2-out}{be-in}
\draw[wx] (rs-x.center) to[out=0,in=180] (rn-x);
\cw{wo}{eop-pp}{c1-ob}
\cw{wo}{c1-as}{s2-cp}
\cw{wo}{s2-cpo}{s3-tg}
\cw{wo}{sp4-o}{uo1-tg}
\cw{wo}{sp4-o}{s5-tg}
\cw{wo}{dm-o}{su-tg}
\cw{wo}{ggm-o}{c2-ob}
\cw{wo}{c2-as}{gsm-tg}
\cw{wo}{c2-as}{sr-tg}
\cw{wo}{gsm-o}{s4-sm}
\cw{wo}{ms2-o}{lm2-tg}
\cw{wo}{iu1-o}{uo2-tg}
\cw{wo}{ms3-o}{st1-tg}
\cw{wo}{cc-o}{uo3-tg}
\cw{wo}{sc-o}{st2-tg}
\cw{wo}{sr-o}{be-tg}
\cw{wo}{cp3-o}{rks-tg}
\draw[wo] (rks-o.center) to[out=0,in=180] (rn-c);
\cw{wb}{do3-o}{b3-c}
\cw{wv}{lm2-o}{s5-nl}
\cw{wd}{rs-d}{be-ev}
\cw{wf}{rf-o}{rn-a}
\cw{wf}{pers-11}{rn-b}

\cw{wx}{otp-x}{ps2-in}
\cw{wx}{ps2-out}{usa-in}
\cw{wx}{usa-out}{uso-in}
\cw{wx}{uso-out}{usr-in}
\cw{wo}{otp-ac}{g1-ob}
\cw{wo}{cp4-o}{g2-ob}
\cw{wo}{aip-o}{gpa-tg}
\cw{wo}{doa-o}{usa-tg}
\cw{wo}{li-o}{uso-tg}
\cw{wo}{sh-o}{usr-tg}
\cw{wa}{gpa-o}{usa-np}
\cw{wa}{gpa-o}{uso-cs}
\cw{wa}{gpa-o}{usr-cs}
\cw{ws}{g1-o}{ap-a}
\cw{ws}{g2-o}{kns}
\cw{ws}{kns}{ap-b}
\cw{ws}{ap-o}{ps2-is}
\cw{wb}{do4-o}{knr}
\cw{wb}{knr}{ps2-pts}

\cw{wx}{otm-x}{usc-in}
\cw{wo}{iu2-o}{usc-tg}
\cw{wo}{aim-o}{gca-tg}
\cw{wa}{gca-o}{usc-sc}
\end{pgfonlayer}
\end{tikzpicture}
\end{document}
